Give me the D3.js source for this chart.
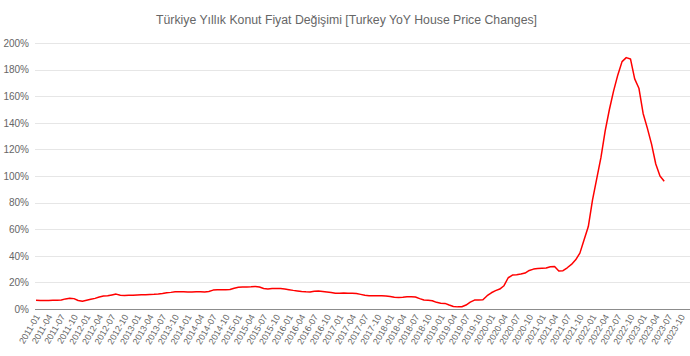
<!DOCTYPE html>
<html>
<head>
<meta charset="utf-8">
<script src="https://cdn.jsdelivr.net/npm/d3@7"></script>
<style>
  html, body { margin: 0; padding: 0; background: #fff; }
  svg { display: block; }
  text { font-family: "Liberation Sans", Arial, sans-serif; fill: #666; }
</style>
</head>
<body>
<svg id="chart" width="690" height="356"></svg>
<script>
const title = "Türkiye Yıllık Konut Fiyat Değişimi [Turkey YoY House Price Changes]";

// month labels 2011-01 .. 2023-12
const years = [2011, 2012, 2013, 2014, 2015, 2016, 2017, 2018, 2019, 2020, 2021, 2022, 2023];
const monthNames = ["01","02","03","04","05","06","07","08","09","10","11","12"];
const categories = [];
years.forEach(yr => monthNames.forEach(m => categories.push(yr + "-" + m)));

// YoY change (%) per month, starting 2011-01
const values2011 = [6.5, 6.4, 6.3, 6.4, 6.5, 6.6, 6.8, 7.6, 8.0, 7.8, 6.4, 5.9];
const values2012 = [6.6, 7.3, 8.0, 9.0, 9.7, 9.9, 10.6, 11.2, 10.3, 10.2, 10.3, 10.4];
const values2013 = [10.6, 10.8, 10.8, 10.9, 11.0, 11.3, 11.7, 12.2, 12.5, 12.9, 13.0, 12.9];
const values2014 = [12.8, 12.8, 12.9, 13.0, 12.8, 13.2, 14.2, 14.5, 14.5, 14.4, 14.6, 15.6];
const values2015 = [16.3, 16.5, 16.6, 16.7, 17.0, 16.5, 15.4, 15.0, 15.4, 15.5, 15.4, 15.0];
const values2016 = [14.5, 14.0, 13.6, 13.2, 12.9, 12.8, 13.3, 13.5, 13.2, 12.8, 12.4, 11.8];
const values2017 = [11.9, 12.0, 11.9, 11.8, 11.6, 11.0, 10.3, 10.0, 10.0, 10.0, 9.9, 9.8];
const values2018 = [9.4, 8.8, 8.7, 8.9, 9.2, 9.3, 9.0, 7.8, 6.8, 6.5, 6.2, 5.0];
const values2019 = [4.4, 4.2, 3.0, 1.9, 1.6, 1.7, 3.0, 5.2, 6.7, 6.8, 7.0, 10.0];
const values2020 = [12.2, 13.8, 15.0, 17.5, 23.5, 25.5, 25.8, 26.3, 27.0, 29.0, 30.0, 30.4];
const values2021 = [30.6, 30.8, 31.8, 32.0, 28.6, 28.8, 31.0, 33.5, 37.0, 42.0, 52.0, 62.0];
const values2022 = [82, 98, 114, 134, 150, 164, 176, 186, 189, 188, 173, 166];
const values2023 = [147, 136, 124, 109, 100, 96];

const values = [].concat(values2011, values2012, values2013, values2014, values2015,
  values2016, values2017, values2018, values2019, values2020, values2021, values2022, values2023);

const yTicks = [0, 20, 40, 60, 80, 100, 120, 140, 160, 180, 200];

const svg = d3.select("#chart");
const plotLeft = 35, plotRight = 690, plotTop = 43, plotBottom = 309;

const x = d3.scalePoint().domain(categories).range([36, 689.5]);
const y = d3.scaleLinear().domain([0, 200]).range([plotBottom, plotTop]);

// title
svg.append("text")
  .attr("x", 346.5).attr("y", 24)
  .attr("text-anchor", "middle")
  .attr("textLength", 381)
  .attr("lengthAdjust", "spacingAndGlyphs")
  .style("font-size", "12px")
  .text(title);

// y axis labels
const yAxis = d3.axisLeft(y).tickValues(yTicks).tickFormat(d => d + "%").tickSize(0).tickPadding(6);
const gy = svg.append("g").attr("transform", `translate(${plotLeft},0)`).call(yAxis);
gy.select(".domain").remove();
gy.selectAll("text").style("font-size", "10px").style("fill", "#666")
  .attr("font-family", "Liberation Sans, Arial, sans-serif");

// horizontal grid
svg.append("g").selectAll("line").data(yTicks.filter(d => d > 0)).join("line")
  .attr("x1", plotLeft).attr("x2", plotRight)
  .attr("y1", d => Math.round(y(d)) + 0.5).attr("y2", d => Math.round(y(d)) + 0.5)
  .attr("stroke", "#e6e6e6").attr("stroke-width", 1);

// x axis
const tickCats = categories.filter((c, i) => i % 3 === 0);
const xAxis = d3.axisBottom(x).tickValues(tickCats).tickSize(0).tickPadding(0);
const gx = svg.append("g").attr("transform", `translate(0,${plotBottom})`).call(xAxis);
gx.select(".domain").remove();
gx.selectAll("text")
  .style("font-size", "9px").style("fill", "#666")
  .attr("text-anchor", "end")
  .attr("y", 0)
  .attr("dy", "0.35em")
  .attr("transform", "translate(1,6) rotate(-60)");

svg.append("line")
  .attr("x1", plotLeft).attr("x2", plotRight)
  .attr("y1", plotBottom + 0.5).attr("y2", plotBottom + 0.5)
  .attr("stroke", "#8c8c8c").attr("stroke-width", 1);

// line
const line = d3.line()
  .x((d, i) => x(categories[i]))
  .y(d => y(d));

svg.append("path")
  .datum(values)
  .attr("d", line)
  .attr("fill", "none")
  .attr("stroke", "#ff0000")
  .attr("stroke-width", 1.5)
  .attr("stroke-linejoin", "round");
</script>
</body>
</html>
